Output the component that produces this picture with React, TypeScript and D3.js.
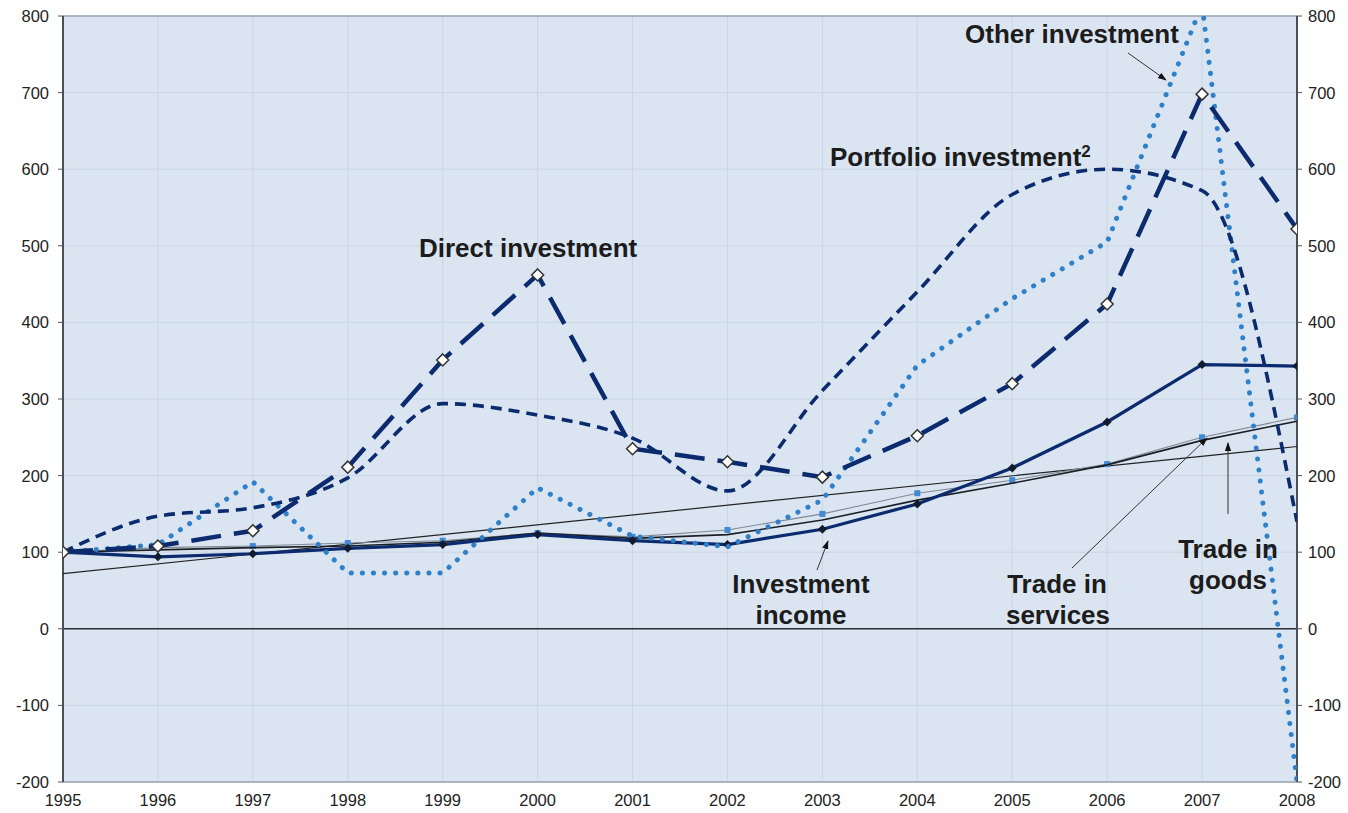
import React from "react";
import * as d3 from "d3";

const years = [1995, 1996, 1997, 1998, 1999, 2000, 2001, 2002, 2003, 2004, 2005, 2006, 2007, 2008];
const directInvestment = [100, 108, 128, 211, 351, 462, 235, 218, 198, 252, 320, 424, 698, 522];
const portfolioInvestment = [100, 147, 158, 197, 294, 279, 249, 180, 311, 440, 567, 600, 572, 140];
const otherInvestment = [100, 110, 192, 73, 73, 184, 121, 107, 168, 344, 431, 505, 815, -200];
const investmentIncome = [100, 94, 98, 105, 110, 123, 115, 110, 130, 163, 210, 270, 345, 343];
const tradeGoods = [100, 103, 106, 108, 113, 125, 118, 123, 142, 168, 190, 214, 246, 271];
const tradeServices = [100, 106, 108, 112, 115, 125, 120, 129, 150, 177, 194, 215, 250, 276];
const trendYears = [1995, 2008];
const trendValues = [72, 238];
const yTicks = [-200, -100, 0, 100, 200, 300, 400, 500, 600, 700, 800];

const W = 1348;
const H = 813;
const L = 63;
const R = 1297;
const T = 16;
const B = 782;

export default function App() {
  const x = d3.scaleLinear().domain([1995, 2008]).range([L, R]);
  const y = d3.scaleLinear().domain([-200, 800]).range([B, T]);

  const straight = d3
    .line<[number, number]>()
    .x((d) => x(d[0]))
    .y((d) => y(d[1]));
  const smooth = d3
    .line<[number, number]>()
    .x((d) => x(d[0]))
    .y((d) => y(d[1]))
    .curve(d3.curveMonotoneX);

  const pts = (vals: number[]) => years.map((yr, i) => [yr, vals[i]] as [number, number]);

  const navy = "#0b2b6e";
  const lightBlue = "#2f80c8";
  const font = "'Liberation Sans', Arial, sans-serif";

  const diamond = (cx: number, cy: number, r: number) =>
    `M${cx},${cy - r}L${cx + r},${cy}L${cx},${cy + r}L${cx - r},${cy}Z`;

  return (
    <div style={{ position: "absolute", left: 0, top: 0 }}>
      <svg width={W} height={H} style={{ display: "block", background: "#ffffff" }}>
        <defs>
          <clipPath id="plotClip">
            <rect x={L} y={T} width={R - L} height={B - T} />
          </clipPath>
          <marker id="arrowHead" viewBox="0 0 10 10" refX="9" refY="5" markerWidth="9" markerHeight="9" orient="auto">
            <path d="M0,1.5 L10,5 L0,8.5 Z" fill="#111" />
          </marker>
        </defs>
        <rect x={L} y={T} width={R - L} height={B - T} fill="#dbe5f1" />
        {/* grid */}
        {years.map((yr) => (
          <line key={"vg" + yr} x1={x(yr)} x2={x(yr)} y1={T} y2={B} stroke="#c9d6e5" strokeWidth={1} />
        ))}
        {yTicks.map((t) => (
          <line key={"hg" + t} x1={L} x2={R} y1={y(t)} y2={y(t)} stroke="#c9d6e5" strokeWidth={1} />
        ))}
        <line x1={L} x2={R} y1={T} y2={T} stroke="#9aa4ae" strokeWidth={1.5} />
        <line x1={L} x2={R} y1={B} y2={B} stroke="#9aa4ae" strokeWidth={1.5} />
        <line x1={L} x2={R} y1={y(0)} y2={y(0)} stroke="#2a2f38" strokeWidth={1.6} />
        {/* axes */}
        <line x1={L} x2={L} y1={T} y2={B} stroke="#4a4f57" strokeWidth={2} />
        <line x1={R} x2={R} y1={T} y2={B} stroke="#4a4f57" strokeWidth={2} />
        {yTicks.map((t) => (
          <g key={"yt" + t}>
            <line x1={L - 5} x2={L} y1={y(t)} y2={y(t)} stroke="#555" strokeWidth={1} />
            <line x1={R} x2={R + 5} y1={y(t)} y2={y(t)} stroke="#555" strokeWidth={1} />
            <text x={L - 14} y={y(t) + 6} textAnchor="end" fontFamily={font} fontSize={16.5} fill="#222">
              {t}
            </text>
            <text x={R + 11} y={y(t) + 6} textAnchor="start" fontFamily={font} fontSize={16.5} fill="#222">
              {t}
            </text>
          </g>
        ))}
        {years.map((yr) => (
          <text key={"xt" + yr} x={x(yr)} y={806} textAnchor="middle" fontFamily={font} fontSize={16.5} fill="#222">
            {yr}
          </text>
        ))}

        <g clipPath="url(#plotClip)">
          {/* linear trend */}
          <path
            d={straight(trendYears.map((yr, i) => [yr, trendValues[i]] as [number, number])) || ""}
            fill="none"
            stroke="#222"
            strokeWidth={1.2}
          />
          {/* trade in services */}
          <path d={straight(pts(tradeServices)) || ""} fill="none" stroke="#7f8a96" strokeWidth={1.1} />
          {pts(tradeServices).map((p, i) => (
            <rect key={"ts" + i} x={x(p[0]) - 3} y={y(p[1]) - 3} width={6} height={6} fill="#3f8ad2" />
          ))}
          {/* trade in goods */}
          <path d={straight(pts(tradeGoods)) || ""} fill="none" stroke="#1b1f24" strokeWidth={1.6} />
          {/* investment income */}
          <path d={straight(pts(investmentIncome)) || ""} fill="none" stroke={navy} strokeWidth={3.2} />
          {pts(investmentIncome).map((p, i) => (
            <path key={"ii" + i} d={diamond(x(p[0]), y(p[1]), 4.5)} fill="#111a2e" />
          ))}
          {/* other investment */}
          <path
            d={straight(pts(otherInvestment)) || ""}
            fill="none"
            stroke={lightBlue}
            strokeWidth={5}
            strokeDasharray="0.1 11"
            strokeLinecap="round"
            strokeLinejoin="round"
          />
          {/* portfolio investment */}
          <path
            d={smooth(pts(portfolioInvestment)) || ""}
            fill="none"
            stroke={navy}
            strokeWidth={3.6}
            strokeDasharray="11 7"
          />
          {/* direct investment */}
          <path
            d={straight(pts(directInvestment)) || ""}
            fill="none"
            stroke={navy}
            strokeWidth={4.5}
            strokeDasharray="30 13"
          />
          {pts(directInvestment).map((p, i) => (
            <path
              key={"di" + i}
              d={diamond(x(p[0]), y(p[1]), 6)}
              fill="#ffffff"
              stroke="#333"
              strokeWidth={1.5}
            />
          ))}
        </g>

        {/* annotations */}
        <g fontFamily={font} fontWeight="bold" fontSize={26} fill="#1c1c1c">
          <text x={965} y={43}>Other investment</text>
          <text x={830} y={166}>
            Portfolio investment<tspan fontSize={17} dy={-9}>2</tspan>
          </text>
          <text x={419} y={257}>Direct investment</text>
          <text x={801} y={593} textAnchor="middle">Investment</text>
          <text x={801} y={624} textAnchor="middle">income</text>
          <text x={1057} y={593} textAnchor="middle">Trade in</text>
          <text x={1058} y={624} textAnchor="middle">services</text>
          <text x={1228} y={558} textAnchor="middle">Trade in</text>
          <text x={1228} y={589} textAnchor="middle">goods</text>
        </g>
        <g stroke="#333" strokeWidth={1} fill="none">
          <line x1={1128} y1={53} x2={1166} y2={80} markerEnd="url(#arrowHead)" />
          <line x1={817} y1={570} x2={828} y2={541} markerEnd="url(#arrowHead)" />
          <line x1={1072} y1={568} x2={1207} y2={438} markerEnd="url(#arrowHead)" />
          <line x1={1228} y1={514} x2={1228} y2={443} markerEnd="url(#arrowHead)" />
        </g>
      </svg>
    </div>
  );
}
